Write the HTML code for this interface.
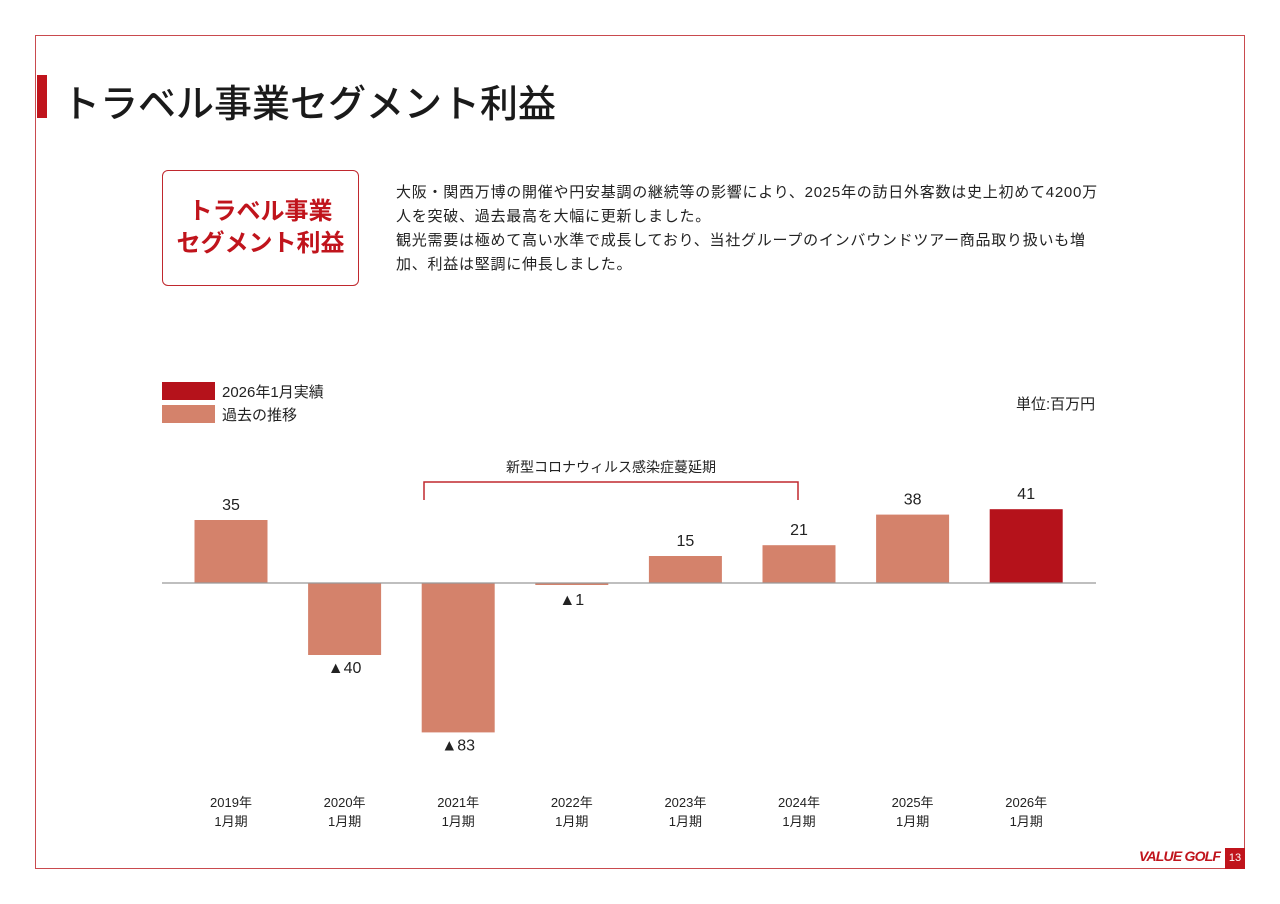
<!DOCTYPE html>
<html><head><meta charset="utf-8">
<style>
body{margin:0;width:1280px;height:904px;background:#fff;font-family:"Liberation Sans","Noto Sans CJK JP",sans-serif;color:#222;position:relative;overflow:hidden}
.abs{position:absolute}
</style></head><body>
<div class="abs" style="left:35px;top:35px;width:1208px;height:832px;border:1.5px solid #c94a4e"></div>
<div class="abs" style="left:37px;top:75px;width:10px;height:43px;background:#c0141c"></div>
<div class="abs" style="left:62px;top:73px;font-size:38px;font-weight:500;color:#1a1a1a;letter-spacing:0px">トラベル事業セグメント利益</div>
<div class="abs" style="left:162px;top:170px;width:197px;height:116px;border:1.5px solid #c0282e;border-radius:6px;color:#c0141c;font-weight:bold;font-size:24px;text-align:center;line-height:32px;box-sizing:border-box;padding-top:25px">トラベル事業<br>セグメント利益</div>
<div class="abs" style="left:396px;top:181px;width:760px;font-size:15px;letter-spacing:0.75px;line-height:24px;color:#222">大阪・関西万博の開催や円安基調の継続等の影響により、2025年の訪日外客数は史上初めて4200万<br>人を突破、過去最高を大幅に更新しました。<br>観光需要は極めて高い水準で成長しており、当社グループのインバウンドツアー商品取り扱いも増<br>加、利益は堅調に伸長しました。</div>
<div class="abs" style="left:162px;top:382px;width:53px;height:18px;background:#b5121b"></div>
<div class="abs" style="left:222px;top:381px;font-size:15px">2026年1月実績</div>
<div class="abs" style="left:162px;top:405px;width:53px;height:18px;background:#d4826b"></div>
<div class="abs" style="left:222px;top:404px;font-size:15px">過去の推移</div>
<div class="abs" style="left:1016px;top:393px;font-size:15px">単位:百万円</div>
<svg class="abs" style="left:0;top:0" width="1280" height="904" id="chart">
<path d="M424 500 V482 H798 V500" fill="none" stroke="#c0282e" stroke-width="1.5"/>
<text x="611" y="472" text-anchor="middle" font-size="14" fill="#222">新型コロナウィルス感染症蔓延期</text>
</svg>
<div class="abs" style="left:1139px;top:848px;font-size:14px;font-weight:bold;font-style:italic;color:#c0141c;letter-spacing:-0.8px">VALUE GOLF</div>
<div class="abs" style="left:1225px;top:848px;width:20px;height:21px;background:#c0141c;color:#fff;font-size:11px;text-align:center;line-height:21px">13</div>
<script>
const categories=["2019年","2020年","2021年","2022年","2023年","2024年","2025年","2026年"];
const values=[35,-40,-83,-1,15,21,38,41];
const labels=["35","▲40","▲83","▲1","15","21","38","41"];
const highlight=[false,false,false,false,false,false,false,true];
const svg=document.getElementById('chart');
const NS='http://www.w3.org/2000/svg';
const zeroY=583,scale=1.8,x0=231,step=113.6,bw=73;
const xPos=i=>x0+i*step;
const yPos=v=>zeroY-v*scale;
function mk(t,a){const e=document.createElementNS(NS,t);for(const k in a)e.setAttribute(k,a[k]);svg.appendChild(e);return e;}
values.forEach((v,i)=>{
  const cx=xPos(i);const y=Math.min(yPos(v),zeroY);const h=Math.max(Math.abs(v*scale),2);
  const r=mk('rect',{x:cx-bw/2,y:v<0?zeroY:y,width:bw,height:h,fill:highlight[i]?'#b5121b':'#d4826b'});
  
  
  const ly=v>=0?yPos(v)-10:yPos(v)+18+(v>-5?2:0);
  const t=mk('text',{x:cx,y:ly,'text-anchor':'middle','font-size':16,fill:'#222'});
  t.textContent=labels[i];
  
  
  const c1=mk('text',{x:cx,y:807,'text-anchor':'middle','font-size':13,fill:'#222'});
  c1.textContent=categories[i];
  
  
  const c2=mk('text',{x:cx,y:826,'text-anchor':'middle','font-size':13,fill:'#222'});
  c2.textContent='1月期';
  
  
});
const ln=mk('line',{x1:162,x2:1096,y1:zeroY,y2:zeroY,stroke:'#999','stroke-width':1.2});


</script>
</body></html>
